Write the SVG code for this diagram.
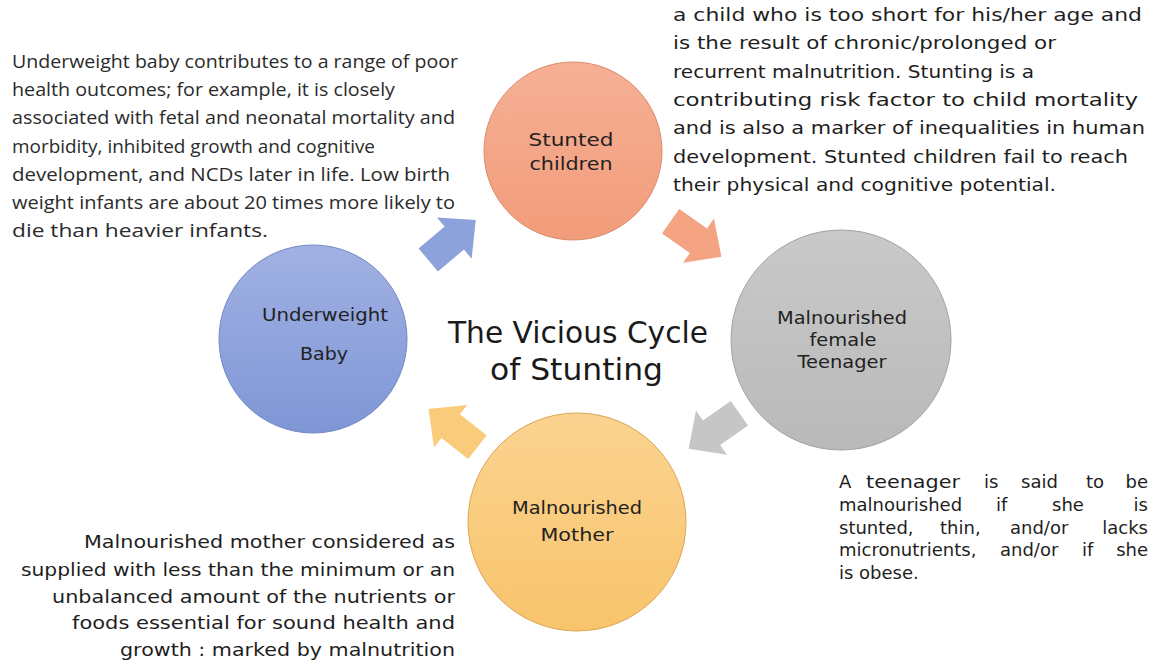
<svg xmlns="http://www.w3.org/2000/svg" width="1156" height="669" viewBox="0 0 1156 669">
<defs>
<style>
.cal{font-family:"Open Sans","Liberation Sans",sans-serif;font-size:18px;fill:#2b2b2b}
.com{font-family:"DejaVu Sans","Liberation Sans",sans-serif;font-size:18px;fill:#1e1e1e}
.lbl{font-family:"DejaVu Sans","Liberation Sans",sans-serif;font-size:17px;fill:#222;text-anchor:middle}
.ttl{font-family:"DejaVu Sans","Liberation Sans",sans-serif;font-size:30px;fill:#1a1a1a}
.br{font-family:"DejaVu Sans","Liberation Sans",sans-serif;font-size:18px;fill:#1e1e1e}
.end{text-anchor:end}
</style>
<linearGradient id="gBlue" x1="0" y1="0" x2="0" y2="1"><stop offset="0" stop-color="#a1b1e3"/><stop offset="1" stop-color="#7f96d6"/></linearGradient>
<linearGradient id="gOrange" x1="0" y1="0" x2="0" y2="1"><stop offset="0" stop-color="#f6b095"/><stop offset="1" stop-color="#f29c7a"/></linearGradient>
<linearGradient id="gGray" x1="0" y1="0" x2="0" y2="1"><stop offset="0" stop-color="#c9c9c9"/><stop offset="1" stop-color="#b9b9b9"/></linearGradient>
<linearGradient id="gYellow" x1="0" y1="0" x2="0" y2="1"><stop offset="0" stop-color="#fbd390"/><stop offset="1" stop-color="#f8c46c"/></linearGradient>
<path id="arrow" d="M-31,-15 L3,-15 L3,-27 L31,0 L3,27 L3,15 L-31,15 Z"/>
</defs>
<rect width="1156" height="669" fill="#ffffff"/>

<g id="connectors">
<use href="#arrow" fill="#8da2db" transform="translate(452,240) rotate(-40)"/>
<use href="#arrow" fill="#f4a482" transform="translate(696,239) rotate(35)"/>
<use href="#arrow" fill="#c6c6c6" transform="translate(714,431) rotate(145)"/>
<use href="#arrow" fill="#facb7b" transform="translate(453,428) rotate(218)"/>
</g>

<g id="node-stunted">
<circle cx="573" cy="151" r="89" fill="url(#gOrange)" stroke="#d98a6c" stroke-width="1"/>
<text class="lbl" x="571" y="146" textLength="85" lengthAdjust="spacingAndGlyphs">Stunted</text>
<text class="lbl" x="571" y="170" textLength="83" lengthAdjust="spacingAndGlyphs">children</text>
</g>

<g id="node-teenager">
<circle cx="841" cy="340" r="110" fill="url(#gGray)" stroke="#a3a3a3" stroke-width="1"/>
<text class="lbl" x="842" y="324" textLength="130" lengthAdjust="spacingAndGlyphs">Malnourished</text>
<text class="lbl" x="843" y="346" textLength="67" lengthAdjust="spacingAndGlyphs">female</text>
<text class="lbl" x="842" y="368" textLength="89" lengthAdjust="spacingAndGlyphs">Teenager</text>
</g>

<g id="node-mother">
<circle cx="577" cy="522" r="109" fill="url(#gYellow)" stroke="#d8a654" stroke-width="1"/>
<text class="lbl" x="577" y="514" textLength="130" lengthAdjust="spacingAndGlyphs">Malnourished</text>
<text class="lbl" x="577" y="541" textLength="73" lengthAdjust="spacingAndGlyphs">Mother</text>
</g>

<g id="node-baby">
<circle cx="313" cy="339" r="94" fill="url(#gBlue)" stroke="#7488c2" stroke-width="1"/>
<text class="lbl" x="325" y="321" textLength="126" lengthAdjust="spacingAndGlyphs">Underweight</text>
<text class="lbl" x="324" y="360" textLength="48" lengthAdjust="spacingAndGlyphs">Baby</text>
</g>

<g id="title">
<text class="ttl" x="448" y="343" textLength="260" lengthAdjust="spacingAndGlyphs">The Vicious Cycle</text>
<text class="ttl" x="490" y="380" textLength="173" lengthAdjust="spacingAndGlyphs">of Stunting</text>
</g>

<g id="text-baby">
<text class="cal" x="12" y="68" textLength="446" lengthAdjust="spacingAndGlyphs">Underweight baby contributes to a range of poor</text>
<text class="cal" x="12" y="96" textLength="383" lengthAdjust="spacingAndGlyphs">health outcomes; for example, it is closely</text>
<text class="cal" x="12" y="124" textLength="443" lengthAdjust="spacingAndGlyphs">associated with fetal and neonatal mortality and</text>
<text class="cal" x="12" y="153" textLength="363" lengthAdjust="spacingAndGlyphs">morbidity, inhibited growth and cognitive</text>
<text class="cal" x="12" y="181" textLength="438" lengthAdjust="spacingAndGlyphs">development, and NCDs later in life. Low birth</text>
<text class="cal" x="12" y="209" textLength="443" lengthAdjust="spacingAndGlyphs">weight infants are about 20 times more likely to</text>
<text class="cal" x="12" y="237" textLength="256" lengthAdjust="spacingAndGlyphs">die than heavier infants.</text>
</g>

<g id="text-stunted">
<text class="com" x="673" y="21" textLength="469" lengthAdjust="spacingAndGlyphs">a child who is too short for his/her age and</text>
<text class="com" x="673" y="49" textLength="383" lengthAdjust="spacingAndGlyphs">is the result of chronic/prolonged or</text>
<text class="com" x="673" y="78" textLength="361" lengthAdjust="spacingAndGlyphs">recurrent malnutrition. Stunting is a</text>
<text class="com" x="673" y="106" textLength="465" lengthAdjust="spacingAndGlyphs">contributing risk factor to child mortality</text>
<text class="com" x="673" y="134" textLength="472" lengthAdjust="spacingAndGlyphs">and is also a marker of inequalities in human</text>
<text class="com" x="673" y="163" textLength="455" lengthAdjust="spacingAndGlyphs">development. Stunted children fail to reach</text>
<text class="com" x="673" y="191" textLength="383" lengthAdjust="spacingAndGlyphs">their physical and cognitive potential.</text>
</g>

<g id="text-teenager">
<text class="br" x="839" y="488">A</text>
<text class="br" x="866" y="488" textLength="94" lengthAdjust="spacingAndGlyphs">teenager</text>
<text class="br" x="984" y="488">is</text>
<text class="br" x="1021" y="488">said</text>
<text class="br" x="1086" y="488">to</text>
<text class="br end" x="1148" y="488">be</text>
<text class="br" y="511"><tspan x="839">malnourished</tspan><tspan x="996">if</tspan><tspan x="1052">she</tspan><tspan class="end" x="1148">is</tspan></text>
<text class="br" y="534"><tspan x="839">stunted,</tspan><tspan x="940">thin,</tspan><tspan x="1010">and/or</tspan><tspan class="end" x="1148">lacks</tspan></text>
<text class="br" y="556"><tspan x="839">micronutrients,</tspan><tspan x="1000">and/or</tspan><tspan x="1082">if</tspan><tspan class="end" x="1148">she</tspan></text>
<text class="br" x="839" y="579">is obese.</text>
</g>

<g id="text-mother">
<text class="com" x="84" y="548" textLength="371" lengthAdjust="spacingAndGlyphs">Malnourished mother considered as</text>
<text class="com" x="21" y="576" textLength="434" lengthAdjust="spacingAndGlyphs">supplied with less than the minimum or an</text>
<text class="com" x="52" y="603" textLength="403" lengthAdjust="spacingAndGlyphs">unbalanced amount of the nutrients or</text>
<text class="com" x="72" y="629" textLength="383" lengthAdjust="spacingAndGlyphs">foods essential for sound health and</text>
<text class="com" x="120" y="656" textLength="335" lengthAdjust="spacingAndGlyphs">growth : marked by malnutrition</text>
</g>
</svg>
